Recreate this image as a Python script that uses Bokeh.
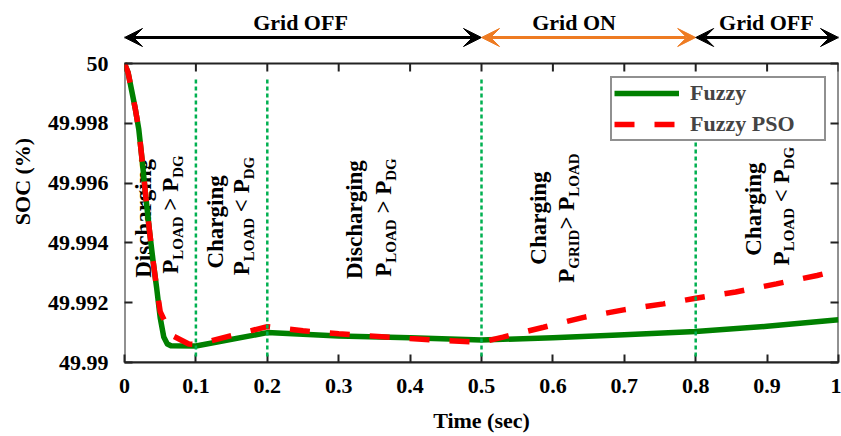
import re
from bokeh.plotting import figure
from bokeh.models import (Arrow, VeeHead, Label, Legend, LegendItem, FixedTicker,
                          CustomJSTickFormatter, LinearAxis, ColumnDataSource, Range1d)
from bokeh.core.properties import value
from bokeh.embed import file_html
from bokeh.resources import INLINE

# ---------------- data ----------------
t_fuzzy = [0.0, 0.005, 0.01, 0.015, 0.02, 0.025, 0.03, 0.035, 0.04, 0.045, 0.05,
           0.055, 0.06, 0.065, 0.1, 0.2, 0.3, 0.4, 0.5, 0.6, 0.7, 0.8, 0.9, 1.0]
soc_fuzzy = [50.0, 49.9997, 49.9991, 49.9985, 49.9978, 49.9967, 49.9955, 49.9944,
             49.9934, 49.9925, 49.9915, 49.99085, 49.99062, 49.99056, 49.99055,
             49.9910, 49.99089, 49.99083, 49.99075, 49.99083, 49.99093, 49.99104,
             49.99121, 49.99143]

t_pso = [0.0, 0.005, 0.01, 0.015, 0.02, 0.025, 0.03, 0.035, 0.04, 0.045, 0.05,
         0.06, 0.067, 0.09, 0.1, 0.2, 0.25, 0.3, 0.4, 0.45, 0.5, 0.53, 0.587,
         0.643, 0.699, 0.755, 0.8, 0.856, 0.913, 0.97, 1.0]
soc_pso = [50.0, 49.9997, 49.9991, 49.9985, 49.9978, 49.9967, 49.9955, 49.9944,
           49.9934, 49.9925, 49.9917, 49.9912, 49.9909, 49.99062, 49.9906, 49.9912,
           49.99106, 49.99096, 49.9908, 49.99073, 49.99068, 49.99085, 49.99118,
           49.99151, 49.99176, 49.99196, 49.99215, 49.99236, 49.99263, 49.99291,
           49.99308]

x_ticks = [0.0, 0.1, 0.2, 0.3, 0.4, 0.5, 0.6, 0.7, 0.8, 0.9, 1.0]
y_ticks = [49.99, 49.992, 49.994, 49.996, 49.998, 50.0]
x_min, x_max = 0.0, 1.0
soc_min, soc_max = 49.99, 50.0

event_t = [0.1, 0.2, 0.5, 0.8]
event_soc_low = [49.9902] * 4
event_soc_high = [49.9995] * 4

grid_start = [0.0, 0.5, 0.8]
grid_end = [0.5, 0.8, 1.0]
grid_names = ["Grid OFF", "Grid ON", "Grid OFF"]
grid_label_t = [0.2465, 0.6296, 0.899]
grid_colors = ["black", "#EE7B22", "black"]
arrow_soc = 50.00087
grid_label_soc = 50.00138

ann_lines = ["Discharging", "P_{LOAD} > P_{DG}",
             "Charging", "P_{LOAD} < P_{DG}",
             "Discharging", "P_{LOAD} > P_{DG}",
             "Charging", "P_{GRID}> P_{LOAD}",
             "Charging", "P_{LOAD} < P_{DG}"]
ann_t = [0.0371, 0.0749, 0.138, 0.1744, 0.3333, 0.3732, 0.5903, 0.6296, 0.8922, 0.9307]
ann_soc = [49.99482, 49.99495, 49.9947, 49.9949, 49.99478, 49.99485,
           49.99483, 49.99483, 49.99513, 49.99523]

# ---------------- layout constants ----------------
FONT = "Liberation Serif"
AX = "#222222"
PX_PER_UNIT = 29900.0          # screen px per SOC unit
FRAME_H = 362                  # frame spans from canvas top to the x axis
TICK = 8

p = figure(width=841, height=436, x_range=Range1d(x_min, x_max),
           y_range=Range1d(soc_min, soc_min + FRAME_H / PX_PER_UNIT),
           output_backend="svg", toolbar_location=None,
           min_border_left=124, min_border_right=3, min_border_top=0, min_border_bottom=74)
p.grid.visible = False
p.outline_line_color = None

xax = p.xaxis[0]
yax = p.yaxis[0]
for ax in (xax, yax):
    ax.axis_line_color = AX
    ax.axis_line_width = 2
    ax.major_tick_line_color = AX
    ax.major_tick_line_width = 2
    ax.major_tick_in = TICK
    ax.major_tick_out = 0
    ax.minor_tick_line_color = None
    ax.major_label_text_font = FONT
    ax.major_label_text_font_style = "bold"
    ax.major_label_text_font_size = "22px"
    ax.major_label_text_color = "black"
    ax.axis_label_text_font = FONT
    ax.axis_label_text_font_style = "bold"
    ax.axis_label_text_font_size = "22px"
    ax.axis_label_text_color = "black"

xax.ticker = FixedTicker(ticks=x_ticks)
xax.formatter = CustomJSTickFormatter(code="return Number(tick.toFixed(1)).toString();")
xax.axis_label = "Time (sec)"
xax.major_label_standoff = 16
xax.axis_label_standoff = 12

yax.axis_line_color = None
yax.ticker = FixedTicker(ticks=y_ticks)
yax.formatter = CustomJSTickFormatter(code="return Number(tick.toFixed(3)).toString();")
yax.axis_label = "SOC (%)"
yax.major_label_standoff = 16
yax.axis_label_standoff = 10

blank = CustomJSTickFormatter(code="return '';")
rax = LinearAxis(ticker=FixedTicker(ticks=y_ticks), formatter=blank,
                 major_label_standoff=0, major_tick_in=TICK, major_tick_out=0,
                 minor_tick_line_color=None, axis_line_color=None,
                 major_tick_line_color=AX, major_tick_line_width=2)
p.add_layout(rax, "right")

# axes box and top ticks
p.quad(left=[x_min], right=[x_max], bottom=[soc_min], top=[soc_max],
       fill_color=None, line_color=AX, line_width=2)
p.segment(x0=x_ticks, y0=[soc_max] * len(x_ticks), x1=x_ticks,
          y1=[soc_max - TICK / PX_PER_UNIT] * len(x_ticks), line_color=AX, line_width=2)

# ---------------- rotated annotations ----------------
W = {'P': 611, 'L': 667, 'O': 778, 'A': 722, 'D': 722, 'G': 778, 'R': 722, 'I': 389,
     ' ': 250, '>': 570, '<': 570, 'C': 722, 'h': 556, 'a': 500, 'r': 444, 'g': 500,
     'i': 278, 'n': 556, 's': 389, 'c': 444}
MAIN, SUB, SHIFT = 23, 15, 5
MID = 0.33   # 'middle' anchor sits about a third of an em above the baseline


def wid(s, size):
    return sum(W.get(ch, 500) for ch in s) * size / 1000.0


main_d = dict(x=[], y=[], text=[], yo=[])
sub_d = dict(x=[], y=[], text=[], yo=[])
for k, line in enumerate(ann_lines):
    parts = re.split(r"_\{([^}]*)\}", line)
    segs = [(part, i % 2 == 1) for i, part in enumerate(parts) if part]
    total = sum(wid(s, SUB if sub else MAIN) for s, sub in segs)
    c = 0.0
    for s, sub in segs:
        size = SUB if sub else MAIN
        lead = len(s) - len(s.lstrip(' '))
        c += wid(' ' * lead, size)
        core = s.strip(' ')
        if core:
            d = sub_d if sub else main_d
            d["x"].append(ann_t[k]); d["y"].append(ann_soc[k])
            d["text"].append(core); d["yo"].append(total / 2 - c)
        c += wid(core, size)
        trail = len(s) - len(s.rstrip(' '))
        c += wid(' ' * trail, size)

for d, size, xo in ((main_d, MAIN, -MID * MAIN), (sub_d, SUB, SHIFT - MID * SUB)):
    p.text(x="x", y="y", text="text", source=ColumnDataSource(d), angle=1.5707963267948966,
           x_offset=xo, y_offset="yo", text_font_size=f"{size}px", text_font=value(FONT),
           text_font_style="bold", text_align="left", text_baseline="middle",
           text_color="black")

# ---------------- curves ----------------
r_fuzzy = p.line(t_fuzzy, soc_fuzzy, line_color="#008000", line_width=5.5, line_join="round")
r_pso = p.line(t_pso, soc_pso, line_color="#FF0000", line_width=5.5, line_dash="20 20")

legend = Legend(items=[LegendItem(label="Fuzzy", renderers=[r_fuzzy]),
                       LegendItem(label="Fuzzy PSO", renderers=[r_pso])],
                location=(486, 221), border_line_color=AX, border_line_width=2,
                background_fill_color="white", background_fill_alpha=1.0,
                label_text_font=FONT, label_text_font_style="bold",
                label_text_font_size="22px",
                glyph_width=65, glyph_height=22, label_height=22, label_width=132,
                spacing=5, padding=2, margin=0, label_standoff=11)
p.add_layout(legend, "center")

# event lines (drawn above everything, including the legend)
p.segment(x0=event_t, y0=event_soc_low, x1=event_t, y1=event_soc_high,
          line_color="#00B050", line_width=2.5, line_dash="4 3", level="overlay")

# ---------------- grid status arrows ----------------
for s, e, name, lt, col in zip(grid_start, grid_end, grid_names, grid_label_t, grid_colors):
    p.add_layout(Arrow(x_start=s, y_start=arrow_soc, x_end=e, y_end=arrow_soc,
                       line_color=col, line_width=3,
                       start=VeeHead(size=18, fill_color=col, line_color=col),
                       end=VeeHead(size=18, fill_color=col, line_color=col)))
    p.add_layout(Label(x=lt, y=grid_label_soc, text=name, text_align="center",
                       text_baseline="middle", text_font=FONT, text_font_style="bold",
                       text_font_size="22px", text_color="black"))

open("out.html", "w").write(file_html(p, INLINE))
